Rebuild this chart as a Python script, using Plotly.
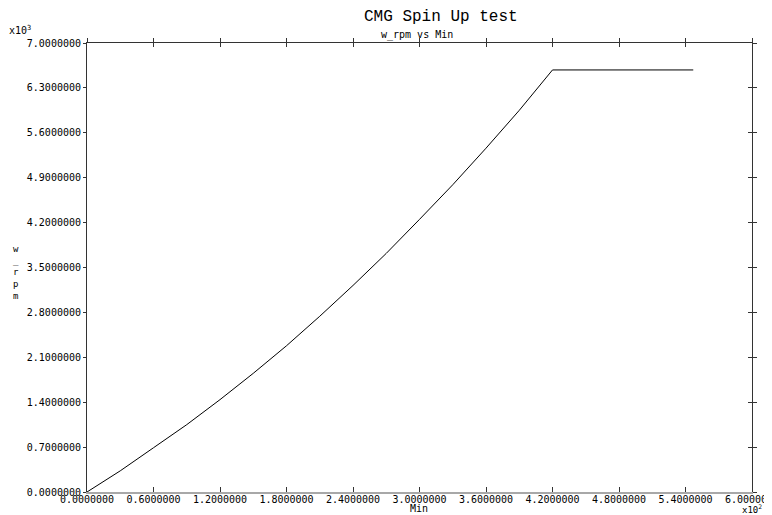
import plotly.graph_objects as go

# Data (Min, w_rpm)
minutes = [0, 30, 60, 90, 120, 150, 180, 210, 240, 270, 300, 330, 360, 390, 420, 547]
w_rpm = [0, 330, 690, 1050, 1440, 1850, 2280, 2740, 3220, 3720, 4250, 4790, 5360, 5950, 6580, 6580]

x_ticks = [0, 60, 120, 180, 240, 300, 360, 420, 480, 540, 600]
y_ticks = [0, 700, 1400, 2100, 2800, 3500, 4200, 4900, 5600, 6300, 7000]
x_scale = 100
y_scale = 1000

x_text = ["%.7f" % (v / x_scale) for v in x_ticks]
y_text = ["%.7f" % (v / y_scale) for v in y_ticks]

FONT = "DejaVu Sans Mono"
OFF = 8  # page body margin
W, H = 772 - OFF, 515 - OFF
L, R, T, B = 87 - OFF, 20, 43 - OFF, 23

fig = go.Figure()
fig.add_trace(go.Scatter(x=minutes, y=w_rpm, mode="lines",
                         line=dict(color="black", width=1), showlegend=False))

common_x = dict(range=[0, 600], tickmode="array", tickvals=x_ticks, showgrid=False,
                zeroline=False, automargin=False)
common_y = dict(range=[0, 7000], tickmode="array", tickvals=y_ticks, showgrid=False,
                zeroline=False, automargin=False)

fig.update_layout(
    width=W, height=H,
    margin=dict(l=L, r=R, t=T, b=B, autoexpand=False),
    paper_bgcolor="white", plot_bgcolor="white",
    xaxis=dict(**common_x, ticktext=x_text, ticks="inside", ticklen=5, tickcolor="#333",
               showline=True, linecolor="#a8a8a8", linewidth=2, ticklabeloverflow="allow",
               ticklabelstandoff=-3,
               tickfont=dict(family=FONT, size=10, color="black")),
    xaxis2=dict(**common_x, overlaying="x", side="top", ticks="outside", ticklen=4,
                tickcolor="#333", showline=True, linecolor="#333", linewidth=1,
                showticklabels=False, anchor="y"),
    xaxis3=dict(**common_x, overlaying="x", side="top", ticks="inside", ticklen=4,
                tickcolor="#333", showline=False, showticklabels=False, anchor="y"),
    yaxis=dict(**common_y, ticktext=y_text, ticks="outside", ticklen=3, tickcolor="#333",
               showline=True, linecolor="#333", linewidth=1, ticklabeloverflow="allow",
               tickfont=dict(family=FONT, size=10, color="black")),
    yaxis2=dict(**common_y, overlaying="y", side="right", ticks="outside", ticklen=4,
                tickcolor="#333", showline=True, linecolor="#333", linewidth=1,
                showticklabels=False, anchor="x"),
    yaxis3=dict(**common_y, overlaying="y", side="right", ticks="inside", ticklen=4,
                tickcolor="#333", showline=False, showticklabels=False, anchor="x"),
)
# invisible helper traces so the mirrored axes are drawn
fig.add_trace(go.Scatter(x=[None], y=[None], xaxis="x2", yaxis="y2", showlegend=False,
                         hoverinfo="skip"))
fig.add_trace(go.Scatter(x=[None], y=[None], xaxis="x3", yaxis="y3", showlegend=False,
                         hoverinfo="skip"))

# positions in window pixels
anns = [
    dict(text="CMG Spin Up test", x=441, y=17, font=dict(family="Liberation Mono", size=16)),
    dict(text="w_rpm vs Min", x=417, y=35, font=dict(family=FONT, size=10)),
    dict(text="Min", x=419, y=508, font=dict(family=FONT, size=10)),
    dict(text="w<br>_<br>r<br>p<br>m", x=16, y=272, font=dict(family=FONT, size=9)),
    dict(text="x10<sup>3</sup>", x=20, y=30, font=dict(family=FONT, size=10)),
    dict(text="x10<sup>2</sup>", x=752, y=509, font=dict(family=FONT, size=9)),
]
pw = W - L - R
ph = H - T - B
for a in anns:
    px = a["x"] - OFF
    py = a["y"] - OFF
    fig.add_annotation(text=a["text"], x=(px - L) / pw, y=1 - (py - T) / ph,
                       xref="paper", yref="paper", xanchor="center", yanchor="middle",
                       showarrow=False, font=dict(color="black", **a["font"]))

fig.write_html("out.html")
